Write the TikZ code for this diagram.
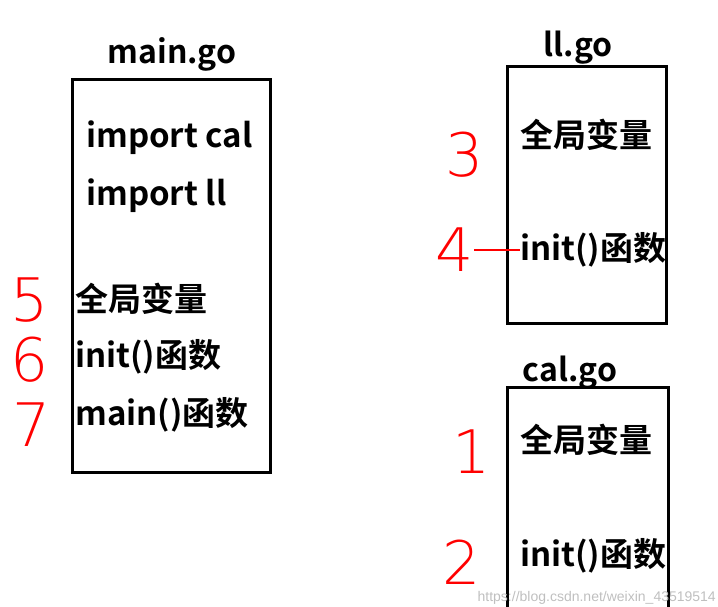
\documentclass[tikz,border=0pt]{standalone}
\usepackage{fontspec}
\setmainfont{Liberation Sans}
\newfontfamily\cjk{Noto Sans CJK SC}[BoldFont={Noto Sans CJK SC Bold}]
\newfontfamily\thin{DejaVu Sans ExtraLight}
\begin{document}
\begin{tikzpicture}[x=1pt,y=-1pt,
  box/.style={draw,line width=3pt},
  lbl/.style={anchor=west,inner sep=0,font=\fontsize{33}{35}\selectfont\bfseries\cjk},
  num/.style={text=red,inner sep=0,font=\fontsize{60}{62}\selectfont\thin},
  ttl/.style={inner sep=0,font=\fontsize{32}{34}\selectfont\bfseries\cjk}]
\useasboundingbox (0,0) rectangle (718,607);
\draw[box] (72,80) rectangle (270,472);
\draw[box] (507,67) rectangle (666,323);
\draw[box] (507,387) rectangle (668,620);
\node[ttl] (tm) at (172,54) {main.go};
\node[ttl] (tl) at (578,48) {ll.go};
\node[ttl] (tc) at (570,373) {cal.go};
\node[lbl] (a1) at (86,138) {import cal};
\node[lbl] (a2) at (86,196) {import ll};
\node[lbl] (a3) at (75,299) {全局变量};
\node[lbl] (a4) at (75,357) {init()函数};
\node[lbl] (a5) at (75,415) {main()函数};
\node[lbl] (b1) at (520,135) {全局变量};
\node[lbl] (b2) at (520,250) {init()函数};
\node[lbl] (c1) at (520,440) {全局变量};
\node[lbl] (c2) at (520,556) {init()函数};
\node[num] (n5) at (30,300) {5};
\node[num] (n6) at (30,360) {6};
\node[num] (n7) at (32,425) {7};
\node[num] (n3) at (465,155) {3};
\node[num] (n4) at (455,250) {4};
\node[num] (n1) at (472,452) {1};
\node[num] (n2) at (462,562) {2};
\draw[red,line width=1.5pt] (n4.east) -- (b2.west);
\node[anchor=south east,inner sep=2pt,text=gray!50,font=\fontsize{14}{16}\selectfont] (wm) at (718,607) {https://blog.csdn.net/weixin\_43519514};
\end{tikzpicture}
\end{document}
